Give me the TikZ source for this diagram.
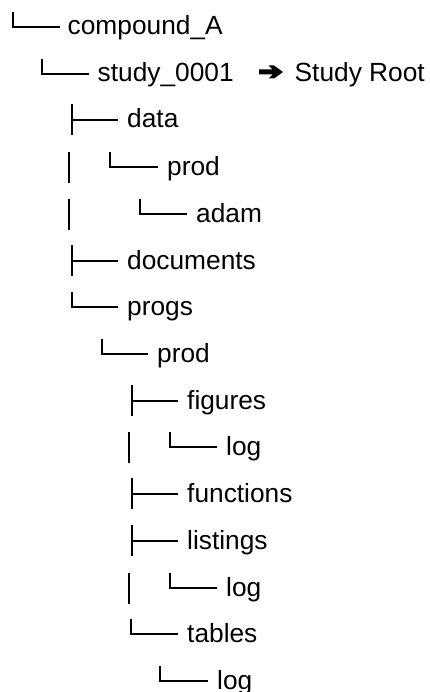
\documentclass[tikz,border=0pt]{standalone}
\usepackage{fontspec}
\setmainfont{Liberation Sans}
\begin{document}
\begin{tikzpicture}[x=1bp,y=-1bp,
  lbl/.style={anchor=base west,inner sep=0pt,font=\fontsize{26.3bp}{30bp}\selectfont},
  br/.style={line width=2bp,black}]
\useasboundingbox (0,0) rectangle (429,692);
% row 0
\draw[br] (13,12) |- (60,27);
\node[lbl] (n0) at (67.5,35) {compound\_A};
% row 1
\draw[br] (42,59) |- (89,74);
\node[lbl] (n1) at (97.5,82) {study\_0001};
\fill (259,69.5) -- (272.5,69.5) -- (268.5,65.5) -- (274,65.5) -- (283,72) -- (274,78.5) -- (268.5,78.5) -- (272.5,74.5) -- (259,74.5) -- cycle;
\node[lbl] (root) at (294.5,82) {Study Root};
% row 2
\draw[br] (72,104) -- (72,135);
\draw[br] (72,120) -- (118,120);
\node[lbl] (n2) at (127,128) {data};
% row 3
\draw[br] (69,152) -- (69,183);
\draw[br] (110,152) |- (158,167);
\node[lbl] (n3) at (167,175) {prod};
% row 4
\draw[br] (69,199) -- (69,230);
\draw[br] (140,199) |- (187,214);
\node[lbl] (n4) at (196,222) {adam};
% row 5
\draw[br] (72,245) -- (72,276);
\draw[br] (72,261) -- (118,261);
\node[lbl] (n5) at (127,269) {documents};
% row 6
\draw[br] (72,292) |- (118,307);
\node[lbl] (n6) at (127,315) {progs};
% row 7
\draw[br] (102,339) |- (148,354);
\node[lbl] (n7) at (157,362) {prod};
% row 8
\draw[br] (132,385) -- (132,416);
\draw[br] (132,401) -- (178,401);
\node[lbl] (n8) at (187,409) {figures};
% row 9
\draw[br] (129,432) -- (129,463);
\draw[br] (170,432) |- (217,447);
\node[lbl] (n9) at (226,455) {log};
% row 10
\draw[br] (132,478) -- (132,509);
\draw[br] (132,494) -- (178,494);
\node[lbl] (n10) at (187,502) {functions};
% row 11
\draw[br] (132,525) -- (132,556);
\draw[br] (132,541) -- (178,541);
\node[lbl] (n11) at (187,549) {listings};
% row 12
\draw[br] (129,573) -- (129,604);
\draw[br] (170,573) |- (217,588);
\node[lbl] (n12) at (226,596) {log};
% row 13
\draw[br] (131,619) |- (178,634);
\node[lbl] (n13) at (187,642) {tables};
% row 14
\draw[br] (160,666) |- (208,681);
\node[lbl] (n14) at (217,689) {log};
\end{tikzpicture}
\end{document}
